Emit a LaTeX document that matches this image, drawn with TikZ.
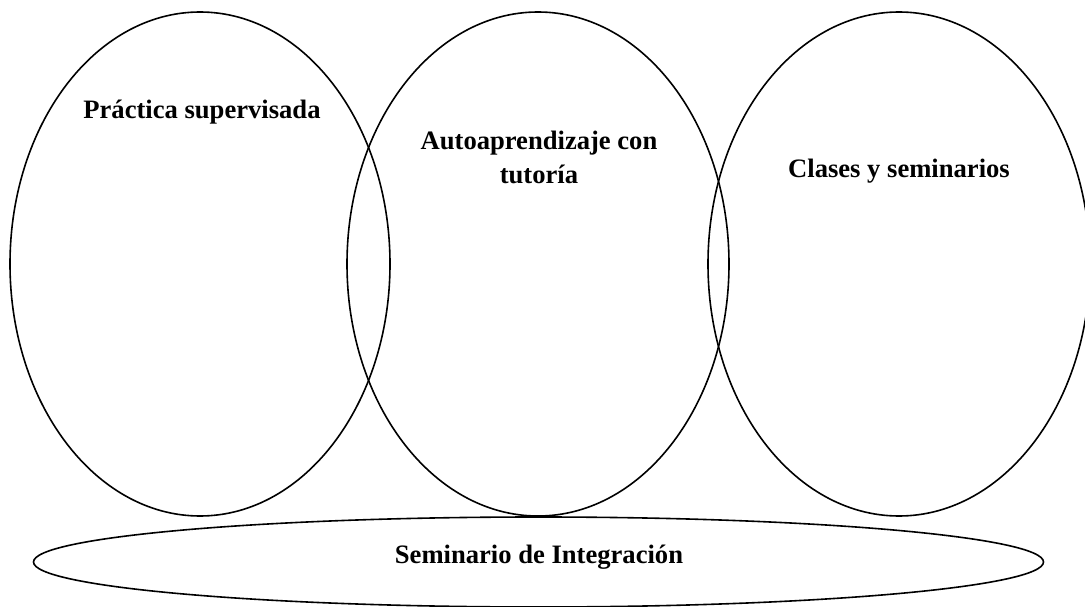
\documentclass[tikz,border=0pt]{standalone}
\usepackage{fontspec}
\setmainfont{Liberation Serif}
\usetikzlibrary{shapes.geometric}
\tikzset{
  oval/.style={draw=black, line width=1.6pt, ellipse, inner sep=0pt},
  lbl/.style={font=\fontsize{26.6}{32}\selectfont\bfseries, anchor=base, align=center, inner sep=0pt}
}
\begin{document}
\begin{tikzpicture}[x=1pt,y=-1pt]
\useasboundingbox (0,0) rectangle (1085,607);
\node[oval, minimum width=380pt, minimum height=504pt] (e1) at (200,264) {};
\node[oval, minimum width=382pt, minimum height=504pt] (e2) at (538,264) {};
\node[oval, minimum width=382pt, minimum height=504pt] (e3) at (899,264) {};
\node[oval, minimum width=1010pt, minimum height=90pt] (e4) at (538.5,562) {};
\node[lbl] (t1) at (202,119) {Práctica supervisada};
\node[lbl] (t2) at (539,150) {Autoaprendizaje con};
\node[lbl] (t2b) at (539,183) {tutoría};
\node[lbl] (t3) at (899,178) {Clases y seminarios};
\node[lbl] (t4) at (539,563) {Seminario de Integración};
\end{tikzpicture}
\end{document}
